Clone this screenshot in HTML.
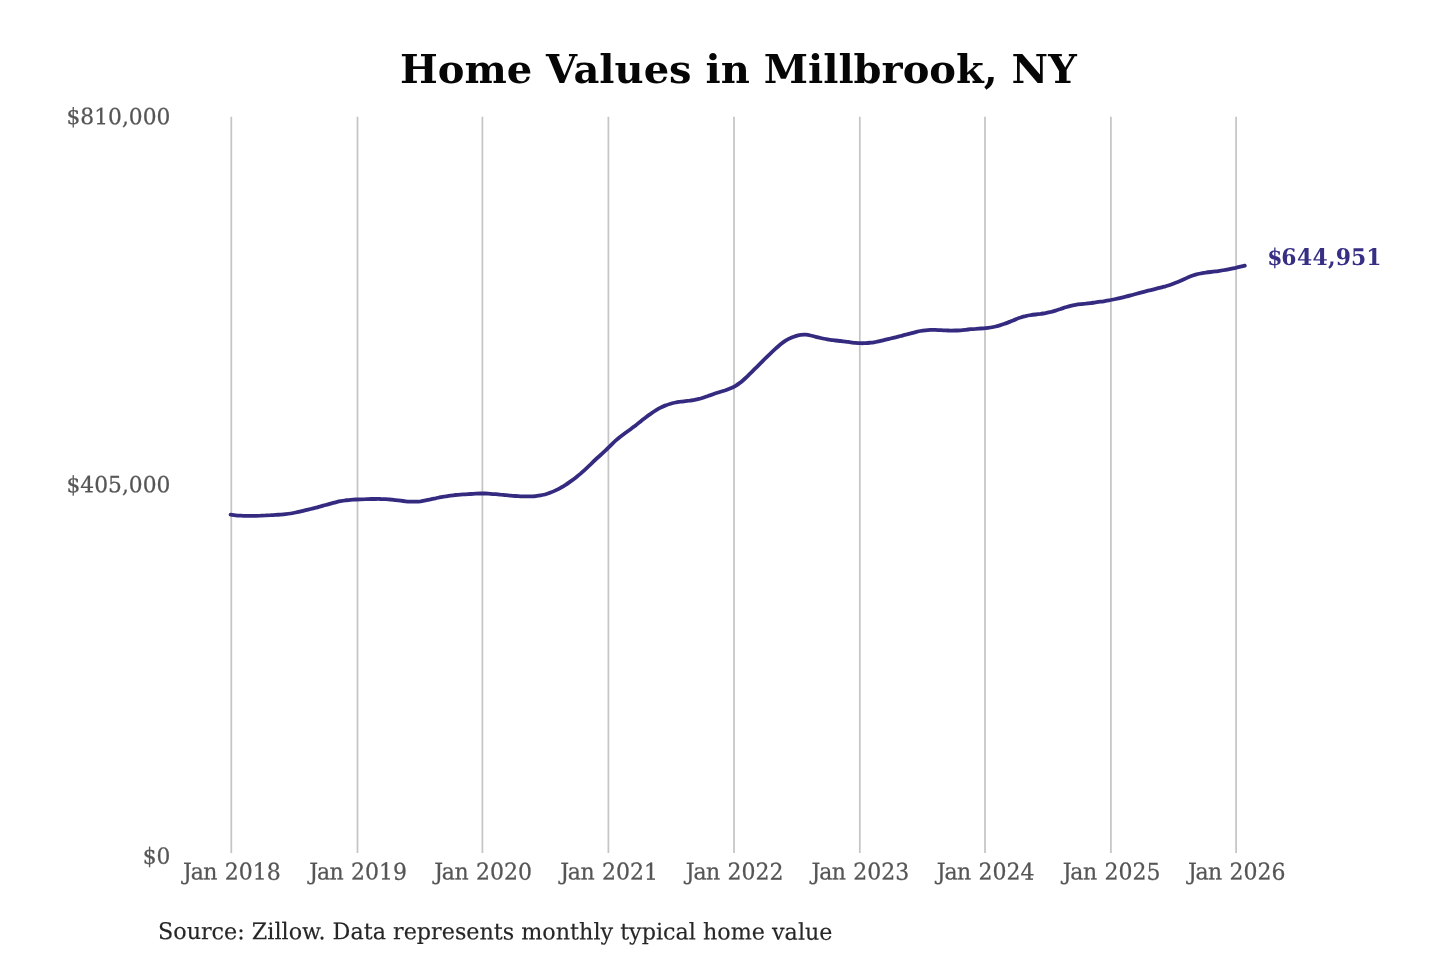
<!DOCTYPE html>
<html lang="en"><head><meta charset="utf-8"><title>Home Values in Millbrook, NY</title>
<style>
html,body{margin:0;padding:0;background:#fff}
body{width:1440px;height:960px;overflow:hidden;font-family:"DejaVu Serif","Liberation Serif",serif}
svg{display:block}
svg text{font-family:"DejaVu Serif","Liberation Serif",serif}
.grid line{stroke:#c5c5c5;stroke-width:1.75}
.ax text{font-size:22px;fill:#555;stroke:#555;stroke-width:0.25px}
.xl text{text-anchor:start}
.yl text{text-anchor:end}
</style></head><body>
<svg width="1440" height="960" viewBox="0 0 1440 960">
<rect width="1440" height="960" fill="#fff"/>
<text x="738.3" y="83.3" text-anchor="middle" font-size="40" font-weight="bold" fill="#060606">Home Values in Millbrook, NY</text>
<g class="grid"><line x1="231.3" y1="116.8" x2="231.3" y2="853"/><line x1="357.5" y1="116.8" x2="357.5" y2="853"/><line x1="482.4" y1="116.8" x2="482.4" y2="853"/><line x1="608.4" y1="116.8" x2="608.4" y2="853"/><line x1="734.0" y1="116.8" x2="734.0" y2="853"/><line x1="859.8" y1="116.8" x2="859.8" y2="853"/><line x1="985.0" y1="116.8" x2="985.0" y2="853"/><line x1="1110.9" y1="116.8" x2="1110.9" y2="853"/><line x1="1236.1" y1="116.8" x2="1236.1" y2="853"/></g>
<g class="ax yl"><text transform="translate(170.4,124.2) rotate(0.05) scale(0.99,1.015)">$810,000</text><text transform="translate(170.4,492.3) rotate(0.05) scale(0.99,1.015)">$405,000</text><text transform="translate(170.4,863.8) rotate(0.05) scale(0.99,1.015)">$0</text></g>
<g class="ax xl"><text transform="translate(231.3,879.6) rotate(0.05) scale(1,1.05)" x="-48.2 -40.6 -28 -14 -6.5 7.5 21.5 35.5">Jan 2018</text><text transform="translate(357.5,879.6) rotate(0.05) scale(1,1.05)" x="-48.2 -40.6 -28 -14 -6.5 7.5 21.5 35.5">Jan 2019</text><text transform="translate(482.4,879.6) rotate(0.05) scale(1,1.05)" x="-48.2 -40.6 -28 -14 -6.5 7.5 21.5 35.5">Jan 2020</text><text transform="translate(608.4,879.6) rotate(0.05) scale(1,1.05)" x="-48.2 -40.6 -28 -14 -6.5 7.5 21.5 35.5">Jan 2021</text><text transform="translate(734.0,879.6) rotate(0.05) scale(1,1.05)" x="-48.2 -40.6 -28 -14 -6.5 7.5 21.5 35.5">Jan 2022</text><text transform="translate(859.8,879.6) rotate(0.05) scale(1,1.05)" x="-48.2 -40.6 -28 -14 -6.5 7.5 21.5 35.5">Jan 2023</text><text transform="translate(985.0,879.6) rotate(0.05) scale(1,1.05)" x="-48.2 -40.6 -28 -14 -6.5 7.5 21.5 35.5">Jan 2024</text><text transform="translate(1110.9,879.6) rotate(0.05) scale(1,1.05)" x="-48.2 -40.6 -28 -14 -6.5 7.5 21.5 35.5">Jan 2025</text><text transform="translate(1236.1,879.6) rotate(0.05) scale(1,1.05)" x="-48.2 -40.6 -28 -14 -6.5 7.5 21.5 35.5">Jan 2026</text></g>
<path d="M230.6,514.6C231.4,514.7 233.9,515.1 235.6,515.3C237.3,515.5 238.9,515.6 240.6,515.7C242.3,515.8 243.9,515.9 245.6,515.9C247.3,515.9 248.9,515.9 250.6,515.9C252.3,515.9 253.9,515.8 255.6,515.8C257.3,515.7 258.9,515.6 260.6,515.6C262.3,515.5 263.9,515.4 265.6,515.4C267.3,515.3 268.9,515.2 270.6,515.2C272.3,515.1 273.9,515.0 275.6,514.9C277.3,514.8 278.9,514.7 280.6,514.6C282.3,514.5 283.9,514.4 285.6,514.2C287.3,514.0 288.9,513.8 290.6,513.5C292.3,513.2 293.9,512.9 295.6,512.5C297.3,512.2 298.9,511.8 300.6,511.4C302.3,511.0 303.9,510.6 305.6,510.2C307.3,509.8 308.9,509.4 310.6,509.0C312.3,508.6 313.9,508.2 315.6,507.7C317.3,507.3 318.9,506.8 320.6,506.4C322.3,505.9 323.9,505.5 325.6,505.0C327.3,504.6 328.9,504.1 330.6,503.6C332.3,503.2 333.9,502.7 335.6,502.3C337.3,501.9 338.9,501.5 340.6,501.2C342.3,500.9 343.9,500.6 345.6,500.3C347.3,500.1 348.9,499.9 350.6,499.8C352.3,499.7 353.9,499.6 355.6,499.5C357.3,499.4 358.9,499.3 360.6,499.3C362.3,499.2 363.9,499.2 365.6,499.2C367.3,499.1 368.9,499.1 370.6,499.0C372.3,499.0 373.9,499.0 375.6,499.0C377.3,498.9 378.9,498.9 380.6,499.0C382.3,499.0 383.9,499.0 385.6,499.1C387.3,499.2 388.9,499.3 390.6,499.5C392.3,499.6 393.9,499.9 395.6,500.1C397.3,500.3 398.9,500.5 400.6,500.7C402.3,501.0 403.9,501.2 405.6,501.3C407.3,501.5 408.9,501.6 410.6,501.7C412.3,501.7 413.9,501.7 415.6,501.7C417.3,501.6 418.9,501.5 420.6,501.3C422.3,501.0 423.9,500.7 425.6,500.4C427.3,500.1 428.9,499.7 430.6,499.4C432.3,499.0 433.9,498.6 435.6,498.3C437.3,497.9 438.9,497.6 440.6,497.2C442.3,496.9 443.9,496.6 445.6,496.4C447.3,496.1 448.9,495.8 450.6,495.6C452.3,495.4 453.9,495.2 455.6,495.0C457.3,494.8 458.9,494.7 460.6,494.6C462.3,494.5 463.9,494.4 465.6,494.3C467.3,494.2 468.9,494.1 470.6,494.0C472.3,493.9 473.9,493.8 475.6,493.7C477.3,493.6 478.9,493.5 480.6,493.5C482.3,493.5 483.9,493.5 485.6,493.5C487.3,493.6 488.9,493.7 490.6,493.8C492.3,494.0 493.9,494.1 495.6,494.2C497.3,494.4 498.9,494.5 500.6,494.7C502.3,494.8 503.9,495.0 505.6,495.1C507.3,495.3 508.9,495.5 510.6,495.6C512.3,495.8 513.9,495.9 515.6,496.0C517.3,496.1 518.9,496.2 520.6,496.3C522.3,496.4 523.9,496.4 525.6,496.4C527.3,496.5 528.9,496.5 530.6,496.4C532.3,496.3 533.9,496.3 535.6,496.1C537.3,495.9 538.9,495.7 540.6,495.4C542.3,495.1 543.9,494.7 545.6,494.3C547.3,493.8 548.9,493.2 550.6,492.5C552.3,491.9 553.9,491.2 555.6,490.4C557.3,489.6 558.9,488.8 560.6,487.8C562.3,486.9 563.9,485.9 565.6,484.8C567.3,483.8 568.9,482.6 570.6,481.4C572.3,480.2 573.9,479.0 575.6,477.7C577.3,476.4 578.9,475.0 580.6,473.6C582.3,472.1 583.9,470.6 585.6,469.1C587.3,467.6 588.9,465.9 590.6,464.4C592.3,462.8 593.9,461.1 595.6,459.5C597.3,458.0 598.9,456.5 600.6,455.0C602.3,453.5 603.9,452.0 605.6,450.4C607.3,448.9 608.9,447.1 610.6,445.5C612.3,443.9 613.9,442.1 615.6,440.6C617.3,439.1 618.9,437.7 620.6,436.4C622.3,435.1 623.9,433.9 625.6,432.7C627.3,431.5 628.9,430.4 630.6,429.2C632.3,428.0 633.9,426.7 635.6,425.4C637.3,424.1 638.9,422.7 640.6,421.4C642.3,420.1 643.9,418.7 645.6,417.5C647.3,416.2 648.9,415.0 650.6,413.9C652.3,412.7 653.9,411.6 655.6,410.5C657.3,409.5 658.9,408.5 660.6,407.6C662.3,406.8 663.9,406.0 665.6,405.4C667.3,404.7 668.9,404.2 670.6,403.7C672.3,403.2 673.9,402.8 675.6,402.5C677.3,402.2 678.9,401.9 680.6,401.7C682.3,401.4 683.9,401.3 685.6,401.1C687.3,400.9 688.9,400.8 690.6,400.5C692.3,400.3 693.9,400.1 695.6,399.7C697.3,399.4 698.9,398.9 700.6,398.5C702.3,398.0 703.9,397.4 705.6,396.8C707.3,396.3 708.9,395.6 710.6,395.1C712.3,394.5 713.9,393.9 715.6,393.3C717.3,392.8 718.9,392.3 720.6,391.7C722.3,391.2 723.9,390.7 725.6,390.2C727.3,389.6 728.9,389.0 730.6,388.3C732.3,387.6 733.9,386.8 735.6,385.8C737.3,384.8 738.9,383.6 740.6,382.4C742.3,381.1 743.9,379.6 745.6,378.0C747.3,376.5 748.9,374.8 750.6,373.2C752.3,371.5 753.9,369.8 755.6,368.1C757.3,366.5 758.9,364.8 760.6,363.1C762.3,361.5 763.9,359.8 765.6,358.2C767.3,356.5 768.9,354.9 770.6,353.3C772.3,351.7 773.9,350.2 775.6,348.7C777.3,347.2 778.9,345.7 780.6,344.3C782.3,343.0 783.9,341.8 785.6,340.7C787.3,339.6 788.9,338.7 790.6,338.0C792.3,337.2 793.9,336.6 795.6,336.1C797.3,335.5 798.9,335.1 800.6,334.9C802.3,334.7 803.9,334.6 805.6,334.7C807.3,334.8 808.9,335.1 810.6,335.5C812.3,335.8 813.9,336.4 815.6,336.8C817.3,337.2 818.9,337.6 820.6,338.0C822.3,338.4 823.9,338.7 825.6,339.0C827.3,339.3 828.9,339.6 830.6,339.8C832.3,340.0 833.9,340.3 835.6,340.5C837.3,340.7 838.9,340.8 840.6,341.0C842.3,341.2 843.9,341.4 845.6,341.6C847.3,341.8 848.9,342.1 850.6,342.3C852.3,342.5 853.9,342.8 855.6,342.9C857.3,343.1 858.9,343.2 860.6,343.2C862.3,343.3 863.9,343.2 865.6,343.2C867.3,343.1 868.9,342.9 870.6,342.7C872.3,342.6 873.9,342.3 875.6,342.0C877.3,341.7 878.9,341.3 880.6,340.9C882.3,340.5 883.9,340.1 885.6,339.7C887.3,339.3 888.9,338.9 890.6,338.5C892.3,338.1 893.9,337.7 895.6,337.3C897.3,336.9 898.9,336.5 900.6,336.0C902.3,335.6 903.9,335.1 905.6,334.7C907.3,334.2 908.9,333.8 910.6,333.4C912.3,332.9 913.9,332.5 915.6,332.1C917.3,331.7 918.9,331.3 920.6,331.0C922.3,330.7 923.9,330.5 925.6,330.3C927.3,330.1 928.9,330.0 930.6,329.9C932.3,329.9 933.9,329.9 935.6,329.9C937.3,330.0 938.9,330.1 940.6,330.2C942.3,330.3 943.9,330.4 945.6,330.4C947.3,330.5 948.9,330.5 950.6,330.6C952.3,330.6 953.9,330.6 955.6,330.5C957.3,330.5 958.9,330.4 960.6,330.3C962.3,330.2 963.9,330.0 965.6,329.8C967.3,329.6 968.9,329.4 970.6,329.2C972.3,329.0 973.9,328.9 975.6,328.8C977.3,328.6 978.9,328.6 980.6,328.5C982.3,328.4 983.9,328.3 985.6,328.1C987.3,328.0 988.9,327.8 990.6,327.5C992.3,327.2 993.9,326.9 995.6,326.5C997.3,326.1 998.9,325.6 1000.6,325.1C1002.3,324.6 1003.9,324.0 1005.6,323.4C1007.3,322.8 1008.9,322.1 1010.6,321.4C1012.3,320.8 1013.9,320.0 1015.6,319.4C1017.3,318.7 1018.9,318.0 1020.6,317.5C1022.3,316.9 1023.9,316.4 1025.6,316.1C1027.3,315.7 1028.9,315.4 1030.6,315.2C1032.3,314.9 1033.9,314.7 1035.6,314.5C1037.3,314.3 1038.9,314.1 1040.6,313.9C1042.3,313.6 1043.9,313.4 1045.6,313.1C1047.3,312.8 1048.9,312.4 1050.6,312.0C1052.3,311.6 1053.9,311.1 1055.6,310.6C1057.3,310.1 1058.9,309.5 1060.6,309.0C1062.3,308.4 1063.9,307.9 1065.6,307.3C1067.3,306.8 1068.9,306.3 1070.6,305.9C1072.3,305.5 1073.9,305.2 1075.6,304.9C1077.3,304.6 1078.9,304.4 1080.6,304.2C1082.3,304.0 1083.9,303.8 1085.6,303.7C1087.3,303.5 1088.9,303.3 1090.6,303.1C1092.3,302.9 1093.9,302.6 1095.6,302.4C1097.3,302.2 1098.9,302.0 1100.6,301.7C1102.3,301.5 1103.9,301.2 1105.6,300.9C1107.3,300.7 1108.9,300.3 1110.6,300.0C1112.3,299.7 1113.9,299.4 1115.6,299.0C1117.3,298.7 1118.9,298.3 1120.6,297.9C1122.3,297.5 1123.9,297.1 1125.6,296.7C1127.3,296.3 1128.9,295.9 1130.6,295.4C1132.3,295.0 1133.9,294.5 1135.6,294.0C1137.3,293.5 1138.9,293.0 1140.6,292.6C1142.3,292.1 1143.9,291.7 1145.6,291.3C1147.3,290.9 1148.9,290.5 1150.6,290.1C1152.3,289.6 1153.9,289.2 1155.6,288.8C1157.3,288.4 1158.9,288.0 1160.6,287.6C1162.3,287.2 1163.9,286.7 1165.6,286.3C1167.3,285.8 1168.9,285.3 1170.6,284.7C1172.3,284.1 1173.9,283.5 1175.6,282.8C1177.3,282.2 1178.9,281.5 1180.6,280.8C1182.3,280.0 1183.9,279.2 1185.6,278.5C1187.3,277.7 1188.9,276.9 1190.6,276.3C1192.3,275.6 1193.9,275.1 1195.6,274.6C1197.3,274.1 1198.9,273.8 1200.6,273.5C1202.3,273.2 1203.9,272.9 1205.6,272.7C1207.3,272.4 1208.9,272.2 1210.6,272.0C1212.3,271.8 1213.9,271.6 1215.6,271.4C1217.3,271.2 1218.9,270.9 1220.6,270.7C1222.3,270.4 1223.9,270.1 1225.6,269.8C1227.3,269.5 1228.9,269.2 1230.6,268.8C1232.3,268.5 1233.9,268.1 1235.6,267.8C1237.3,267.4 1239.1,267.0 1240.6,266.7C1242.1,266.4 1244.1,265.9 1244.8,265.7" fill="none" stroke="#342b80" stroke-width="3.8" stroke-linecap="round" stroke-linejoin="round"/>
<text transform="translate(1267.3,265.0) rotate(0.05) scale(1,1.045)" x="0 13.9 29.6 45.1 60.6 68.4 83.8 99.06" font-size="21.9" font-weight="bold" fill="#372f84">$644,951</text>
<text transform="translate(158,939.1) rotate(0.05) scale(1,1.03)" font-size="22.27" fill="#262626" stroke="#262626" stroke-width="0.15">Source: Zillow. Data represents monthly typical home value</text>
</svg>
</body></html>
